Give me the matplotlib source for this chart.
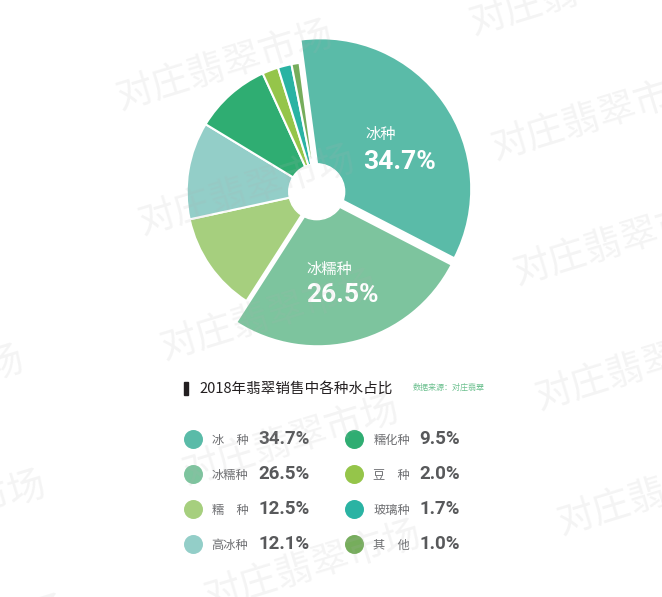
import matplotlib.pyplot as plt
from matplotlib.patches import Circle, Rectangle

names = ["冰种", "冰糯种", "糯种", "高冰种", "糯化种", "豆种", "玻璃种", "其他"]
shares = [34.7, 26.5, 12.5, 12.1, 9.5, 2.0, 1.7, 1.0]
colors = ["#5abba8", "#7dc49e", "#a6cf7e", "#93cec8",
          "#2fad72", "#95c54a", "#2ab3a3", "#76ad5c"]
title = "2018年翡翠销售中各种水占比"
source = "数据来源：对庄翡翠"
watermark = "对庄翡翠市场"

W, H = 662, 597
plt.rcParams['font.family'] = ['Noto Sans CJK SC', 'DejaVu Sans']
fig = plt.figure(figsize=(W / 100, H / 100), dpi=100)
fig.patch.set_facecolor('white')

# pie axes: 1 data unit = 130 px
unit = 130
cx, cy = 316.7, 191.7
half = 1.5
ax = fig.add_axes([(cx - half * unit) / W, 1 - (cy + half * unit) / H,
                   2 * half * unit / W, 2 * half * unit / H], zorder=1)
explode = [0.035, 0.03, 0, 0, 0, 0, 0, 0]
wedges, _ = ax.pie(shares, colors=colors, startangle=97.6, counterclock=False,
                   explode=explode,
                   wedgeprops=dict(edgecolor='white', linewidth=1.5))
for w in wedges[:2]:
    w.set_radius(1.16)
ax.add_patch(Circle((0, 0), 0.215, color='white', zorder=3))
ax.set_xlim(-half, half)
ax.set_ylim(-half, half)
ax.set_aspect('equal')
ax.axis('off')

# overlay in pixel coords (y down) for texts, legend and watermark
top = fig.add_axes([0, 0, 1, 1], zorder=2)
top.set_xlim(0, W)
top.set_ylim(H, 0)
top.axis('off')
top.patch.set_alpha(0)

# labels inside the two big slices
top.text(365, 134, names[0], color='white', fontsize=11, va='center')
top.text(363, 162, f"{shares[0]:.1f}%", color='white', fontsize=19,
         fontfamily='Roboto', fontweight='bold', va='center')
top.text(306.5, 269, names[1], color='white', fontsize=11, va='center')
top.text(306, 295, f"{shares[1]:.1f}%", color='white', fontsize=19,
         fontfamily='Roboto', fontweight='bold', va='center')

# title line
top.add_patch(Rectangle((184, 381.5), 3.5, 13.5, color='#231f20'))
top.text(199, 388.5, title, fontsize=10.5, color='#231f20',
         fontweight='medium', va='center')
top.text(412.5, 387, source, fontsize=5.8, color='#6cc08f', va='center')

# legend
circle_x = [192.7, 354.3]
label_x = [211.7, 373.3]
pct_x = [258.3, 419.3]
for k, (n, v, c) in enumerate(zip(names, shares, colors)):
    col, row = k // 4, k % 4
    y = 439.3 + 35 * row
    shown = n if len(n) == 3 else n[0] + "\u3000" + n[1]
    top.scatter(circle_x[col], y, s=187, color=c, linewidths=0)
    top.text(label_x[col], y + 1, shown, fontsize=8.8, color='#6d6e71',
             va='center')
    top.text(pct_x[col], y, f"{v:.1f}%", fontsize=13.5, color='#58595b',
             fontfamily='Roboto', fontweight='bold', va='center')

# watermark
for i in (-1, 0, 1):
    for j in range(-1, 6):
        x = 120 + 375 * i + 22 * j
        y = 110 + 50 * i + 125 * j
        top.text(x, y, watermark, rotation=17, rotation_mode='anchor',
                 ha='left', va='baseline', fontsize=27, color='#b0b0b0',
                 alpha=0.14, fontweight='medium', zorder=5, clip_on=True)

fig.savefig("out.png", dpi=100)
